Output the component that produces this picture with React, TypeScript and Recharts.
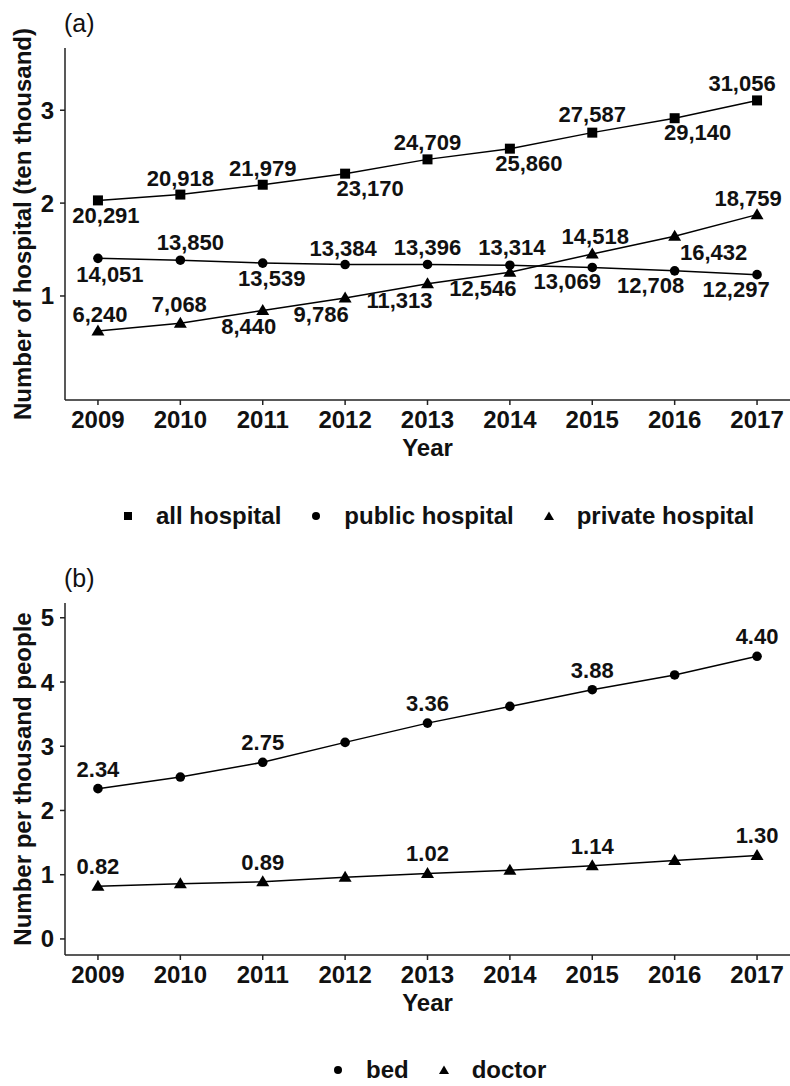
import React from 'react';
import { LineChart, Line, XAxis, YAxis } from 'recharts';

const years = [2009, 2010, 2011, 2012, 2013, 2014, 2015, 2016, 2017];
const allHospital = [20291, 20918, 21979, 23170, 24709, 25860, 27587, 29140, 31056];
const publicHospital = [14051, 13850, 13539, 13384, 13396, 13314, 13069, 12708, 12297];
const privateHospital = [6240, 7068, 8440, 9786, 11313, 12546, 14518, 16432, 18759];
const bedPerThousand = [2.34, 2.52, 2.75, 3.06, 3.36, 3.62, 3.88, 4.11, 4.4];
const doctorPerThousand = [0.82, 0.86, 0.89, 0.96, 1.02, 1.07, 1.14, 1.22, 1.3];
const hospitalTicks = [1, 2, 3];
const perThousandTicks = [0, 1, 2, 3, 4, 5];
const labelledYears = [2009, 2011, 2013, 2015, 2017];

// where each value label sits relative to its point (repel-style), [dx, dy]
const allLabelOffset = [[8, 15], [0, -17], [0, -17], [25, 14], [0, -17], [19, 14], [0, -19], [23, 14], [-15, -17]];
const publicLabelOffset = [[12, 16], [10, -18], [9, 15], [-2, -17], [0, -17], [2, -18], [-25, 14], [-24, 14], [-21, 14]];
const privateLabelOffset = [[2, -17], [-1, -19], [-14, 16], [-24, 16], [-28, 16], [-27, 16], [3, -18], [39, 16], [-9, -17]];

const hospitalRows = years.map((year, i) => ({
  year,
  all: allHospital[i] / 10000,
  pub: publicHospital[i] / 10000,
  priv: privateHospital[i] / 10000,
}));
const perThousandRows = years.map((year, i) => ({
  year,
  bed: bedPerThousand[i],
  doctor: doctorPerThousand[i],
}));

const FONT = '"Liberation Sans", Arial, Helvetica, sans-serif';
const INK = '#111';
const AXIS = { stroke: '#222', strokeWidth: 1.5 };
const tickStyle = { fontSize: 24, fontWeight: 'bold', fill: INK, fontFamily: FONT };
const labelStyle: React.CSSProperties = { fontSize: 22, fontWeight: 'bold', fill: INK, fontFamily: FONT };
const titleStyle: React.CSSProperties = { fontSize: 24, fontWeight: 'bold', fill: INK, fontFamily: FONT };

const Square = ({ cx, cy }: { cx: number; cy: number }) => <rect x={cx - 5} y={cy - 5} width={10} height={10} fill="#000" />;
const Dot = ({ cx, cy }: { cx: number; cy: number }) => <circle cx={cx} cy={cy} r={4.8} fill="#000" />;
const Tri = ({ cx, cy }: { cx: number; cy: number }) => (
  <polygon points={`${cx},${cy - 6.5} ${cx - 6.5},${cy + 4.5} ${cx + 6.5},${cy + 4.5}`} fill="#000" />
);

const dotOf = (Shape: any, tag: string) => (p: any) => <Shape key={`${tag}-${p.index}`} cx={p.cx} cy={p.cy} />;

const countLabel = (counts: number[], offsets: number[][], tag: string) => (p: any) => {
  const [dx, dy] = offsets[p.index];
  return (
    <text key={`${tag}-${p.index}`} x={p.x + dx} y={p.y + dy + 8} textAnchor="middle" style={labelStyle}>
      {counts[p.index].toLocaleString('en-US')}
    </text>
  );
};

const rateLabel = (values: number[], tag: string) => (p: any) => {
  if (!labelledYears.includes(years[p.index])) return <g key={`${tag}-${p.index}`} />;
  return (
    <text key={`${tag}-${p.index}`} x={p.x} y={p.y - 20 + 8} textAnchor="middle" style={labelStyle}>
      {values[p.index].toFixed(2)}
    </text>
  );
};

// rotated y title, centred on the axis box, 13px left of it
const yTitle = (value: string) => ({
  content: (p: any) => {
    const vb = p.viewBox || {};
    const x = vb.x - 13;
    const y = vb.y + vb.height / 2;
    return (
      <text x={x} y={y} dy="0.355em" textAnchor="middle" transform={`rotate(-90, ${x}, ${y})`} style={titleStyle}>
        {value}
      </text>
    );
  },
});

const LegendIcon = ({ kind }: { kind: string }) => (
  <svg width={12} height={12} style={{ marginRight: 22, display: 'block' }}>
    {kind === 'square' && <rect x={2} y={2} width={8} height={8} fill="#000" />}
    {kind === 'circle' && <circle cx={6} cy={6} r={4} fill="#000" />}
    {kind === 'triangle' && <polygon points="6,1.5 1,10 11,10" fill="#000" />}
  </svg>
);

const LegendRow = ({ items, left, top }: { items: [string, string][]; left: number; top: number }) => (
  <div style={{ position: 'absolute', left, top, display: 'flex', alignItems: 'center', height: 24 }}>
    {items.map(([kind, name], i) => (
      <div key={name} style={{ display: 'flex', alignItems: 'center', marginLeft: i ? 29 : 0 }}>
        <LegendIcon kind={kind} />
        <span style={{ fontSize: 24, fontWeight: 'bold', color: INK, lineHeight: '24px' }}>{name}</span>
      </div>
    ))}
  </div>
);

const panelTag = (text: string, top: number) => (
  <div style={{ position: 'absolute', left: 64, top, fontSize: 25, lineHeight: '25px', color: INK }}>{text}</div>
);

const xAxisProps = {
  dataKey: 'year',
  type: 'number' as const,
  domain: [2008.6, 2017.4],
  ticks: years,
  interval: 0 as const,
  tickSize: 5,
  tickMargin: 6,
  height: 60,
  axisLine: AXIS,
  tickLine: AXIS,
  tick: tickStyle,
  label: { value: 'Year', position: 'insideBottom' as const, offset: 4, fontSize: 24, fontWeight: 'bold', fill: INK, fontFamily: FONT },
};

export default function App() {
  return (
    <div style={{ position: 'absolute', left: 0, top: 0, width: 790, height: 1086, background: '#fff', fontFamily: FONT }}>
      {panelTag('(a)', 11)}
      <div style={{ position: 'absolute', left: 0, top: 0 }}>
        <LineChart width={790} height={460} data={hospitalRows} margin={{ top: 48, right: 0, bottom: 0, left: 35 }}>
          <XAxis {...xAxisProps} />
          <YAxis
            width={30}
            domain={[-0.12, 3.67]}
            ticks={hospitalTicks}
            tickSize={5}
            tickMargin={6}
            axisLine={AXIS}
            tickLine={AXIS}
            tick={tickStyle}
            label={yTitle('Number of hospital (ten thousand)')}
          />
          <Line dataKey="all" stroke="#000" strokeWidth={1.5} isAnimationActive={false} activeDot={false}
            dot={dotOf(Square, 'sa')} label={countLabel(allHospital, allLabelOffset, 'la')} />
          <Line dataKey="pub" stroke="#000" strokeWidth={1.5} isAnimationActive={false} activeDot={false}
            dot={dotOf(Dot, 'sp')} label={countLabel(publicHospital, publicLabelOffset, 'lp')} />
          <Line dataKey="priv" stroke="#000" strokeWidth={1.5} isAnimationActive={false} activeDot={false}
            dot={dotOf(Tri, 'sv')} label={countLabel(privateHospital, privateLabelOffset, 'lv')} />
        </LineChart>
      </div>
      <LegendRow items={[['square', 'all hospital'], ['circle', 'public hospital'], ['triangle', 'private hospital']]} left={122} top={504} />

      {panelTag('(b)', 566)}
      <div style={{ position: 'absolute', left: 0, top: 555 }}>
        <LineChart width={790} height={460} data={perThousandRows} margin={{ top: 48, right: 0, bottom: 0, left: 35 }}>
          <XAxis {...xAxisProps} />
          <YAxis
            width={30}
            domain={[-0.25, 5.23]}
            ticks={perThousandTicks}
            tickSize={5}
            tickMargin={6}
            axisLine={AXIS}
            tickLine={AXIS}
            tick={tickStyle}
            label={yTitle('Number per thousand people')}
          />
          <Line dataKey="bed" stroke="#000" strokeWidth={1.5} isAnimationActive={false} activeDot={false}
            dot={dotOf(Dot, 'sb')} label={rateLabel(bedPerThousand, 'lb')} />
          <Line dataKey="doctor" stroke="#000" strokeWidth={1.5} isAnimationActive={false} activeDot={false}
            dot={dotOf(Tri, 'sd')} label={rateLabel(doctorPerThousand, 'ld')} />
        </LineChart>
      </div>
      <LegendRow items={[['circle', 'bed'], ['triangle', 'doctor']]} left={332} top={1058} />
    </div>
  );
}
